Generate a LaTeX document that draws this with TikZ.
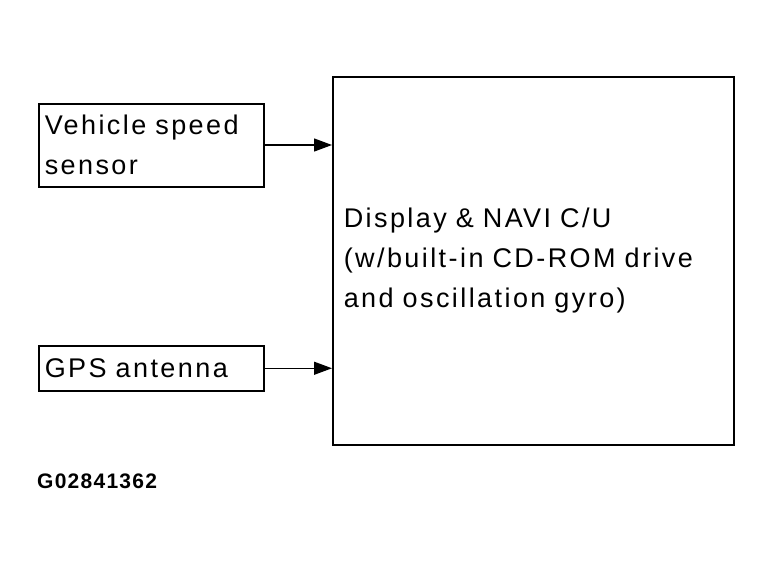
\documentclass[tikz,border=0pt]{standalone}
\usepackage{fontspec}
\setmainfont{Liberation Sans}
\newfontfamily\widefont{Liberation Sans}[LetterSpace=9,WordSpace=2.6]
\newfontfamily\idfont{Liberation Sans}[LetterSpace=6]
\usetikzlibrary{arrows.meta}
\newcommand\diagfont{\widefont\fontsize{27}{40}\selectfont}
\begin{document}
\begin{tikzpicture}[x=1pt,y=-1pt,
  box/.style={draw,line width=1.5pt,anchor=north west,align=left,inner sep=6pt,font=\diagfont},
  arr/.style={line width=1.3pt,-{Triangle[length=18pt,width=13pt]}}]
\useasboundingbox (0,0) rectangle (767,565);
\node[box,minimum width=225pt,minimum height=83pt,text width=213pt] (vss) at (38,103) {Vehicle speed\\sensor};
\node[box,minimum width=225pt,minimum height=45pt,text width=213pt] (gps) at (38,345) {GPS antenna};
\node[box,minimum width=397pt,minimum height=368pt,text width=379pt,inner sep=11pt] (cu) at (332,76) {Display \& NAVI C/U\\(w/built-in CD-ROM drive\\and oscillation gyro)};
\draw[arr] (vss.east |- 0,145) -- (cu.west |- 0,145);
\draw[arr] (gps.east) -- (cu.west |- gps.east);
\node[anchor=west,inner sep=0pt,font=\idfont\fontsize{21}{24}\selectfont\bfseries] (id) at (37,481) {G02841362};
\end{tikzpicture}
\end{document}
